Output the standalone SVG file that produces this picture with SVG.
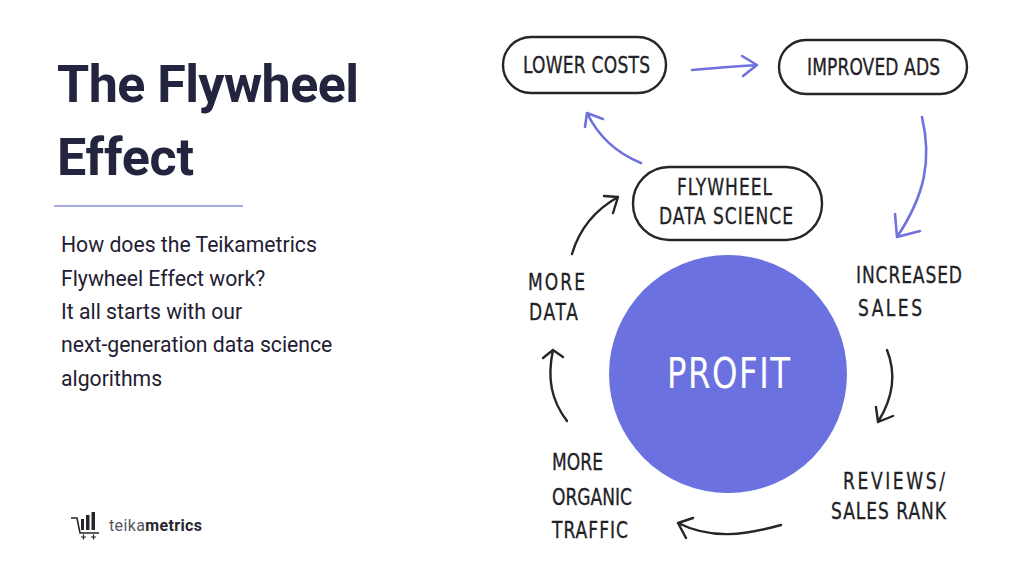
<svg xmlns="http://www.w3.org/2000/svg" width="1024" height="576" viewBox="0 0 1024 576">
<style>
.title{font-family:Roboto,"Liberation Sans",sans-serif;font-weight:700;font-size:52px;fill:#23243d}
.body{font-family:Roboto,"Liberation Sans",sans-serif;font-size:21.200px;fill:#1f2033}
.hand{font-family:"Liberation Sans Narrow","DejaVu Sans Condensed","Liberation Sans",sans-serif;font-size:19px;fill:#222226;stroke:#222226;stroke-width:.25}
.pill{fill:#fff;stroke:#26262a;stroke-width:2.4}
.pa{fill:none;stroke:#6f72dc;stroke-width:2.6;stroke-linecap:round;stroke-linejoin:round}
.ba{fill:none;stroke:#26262a;stroke-width:2.4;stroke-linecap:round;stroke-linejoin:round}
</style>
<rect width="1024" height="576" fill="#fff"/>
<g id="heading">
<text class="title" x="57" y="102" textLength="302" lengthAdjust="spacing">The Flywheel</text>
<text class="title" x="57" y="175" textLength="137" lengthAdjust="spacing">Effect</text>
<line x1="54" y1="206" x2="243" y2="206" stroke="#8b8fd6" stroke-width="1.4"/>
</g>
<g id="intro">
<text class="body" x="61" y="252">How does the Teikametrics</text>
<text class="body" x="61" y="286">Flywheel Effect work?</text>
<text class="body" x="61" y="319">It all starts with our</text>
<text class="body" x="61" y="352">next-generation data science</text>
<text class="body" x="61" y="386">algorithms</text>
</g>
<g id="logo">
<path d="M71 518h6l3 15h19" fill="none" stroke="#26262a" stroke-width="1.6"/>
<path d="M81 519h3v11h-3zM86 515h3.500v15h-3.500zM91.500 512h3.500v18h-3.500z" fill="#26262a"/>
<path d="M81 537h5M83.500 534.500v5M91 537h5M93.500 534.500v5" stroke="#26262a" stroke-width="1.200" fill="none"/>
<text x="109" y="531" font-family="Roboto,'Liberation Sans',sans-serif" font-size="16" fill="#55565f" textLength="93" lengthAdjust="spacing">teika<tspan font-weight="700" fill="#26262e">metrics</tspan></text>
</g>
<g id="connectors">
<path class="pa" d="M692 70Q724 67 757 65M742 56L757 65L743 76"/>
<path class="pa" d="M641 163Q604 148 587 113M585 127L587 113L603 119"/>
<path class="pa" d="M922 117C932 160 925 195 897 237M895 214L897 237L920 231"/>
<path class="ba" d="M887 350C897 375 893 398 878 422M876 407L878 422L893 416"/>
<path class="ba" d="M781 525C745 535 712 540 678 523M693 518L678 523L686 538"/>
<path class="ba" d="M567 421C551 400 547 378 553 350M543 358L553 350L563 357"/>
<path class="ba" d="M572 254C579 230 595 210 618 197M604 196L618 197L613 213"/>
</g>
<g id="profit">
<circle cx="728" cy="374" r="119" fill="#6b72e0"/>
<text transform="translate(667 388) scale(1 1.200)" font-family="'Liberation Sans Narrow','DejaVu Sans Condensed','Liberation Sans',sans-serif" font-size="36" fill="#fff" textLength="123" lengthAdjust="spacing">PROFIT</text>
</g>
<g id="lower-costs">
<rect class="pill" x="503" y="37" width="163" height="56" rx="28"/>
<text class="hand" transform="translate(523 73) scale(1 1.200)" textLength="127" lengthAdjust="spacing">LOWER COSTS</text>
</g>
<g id="improved-ads">
<rect class="pill" x="779" y="40" width="188" height="54" rx="27"/>
<text class="hand" transform="translate(807 75) scale(1 1.200)" textLength="133" lengthAdjust="spacing">IMPROVED ADS</text>
</g>
<g id="flywheel-data-science">
<rect class="pill" x="633" y="167" width="189" height="73" rx="36"/>
<text class="hand" transform="translate(677 195) scale(1 1.200)" textLength="95" lengthAdjust="spacing">FLYWHEEL</text>
<text class="hand" transform="translate(659 224) scale(1 1.200)" textLength="134" lengthAdjust="spacing">DATA SCIENCE</text>
</g>
<g id="increased-sales">
<text class="hand" transform="translate(856 283) scale(1 1.200)" textLength="106" lengthAdjust="spacing">INCREASED</text>
<text class="hand" transform="translate(858 316) scale(1 1.200)" textLength="64" lengthAdjust="spacing">SALES</text>
</g>
<g id="reviews-sales-rank">
<text class="hand" transform="translate(843 489) scale(1 1.200)" textLength="102" lengthAdjust="spacing">REVIEWS/</text>
<text class="hand" transform="translate(831 519) scale(1 1.200)" textLength="115" lengthAdjust="spacing">SALES RANK</text>
</g>
<g id="more-organic-traffic">
<text class="hand" transform="translate(552 470) scale(1 1.200)" textLength="51" lengthAdjust="spacing">MORE</text>
<text class="hand" transform="translate(552 505) scale(1 1.200)" textLength="80" lengthAdjust="spacing">ORGANIC</text>
<text class="hand" transform="translate(552 538) scale(1 1.200)" textLength="76" lengthAdjust="spacing">TRAFFIC</text>
</g>
<g id="more-data">
<text class="hand" transform="translate(528 290) scale(1 1.200)" textLength="57" lengthAdjust="spacing">MORE</text>
<text class="hand" transform="translate(529 320) scale(1 1.200)" textLength="49" lengthAdjust="spacing">DATA</text>
</g>
</svg>
